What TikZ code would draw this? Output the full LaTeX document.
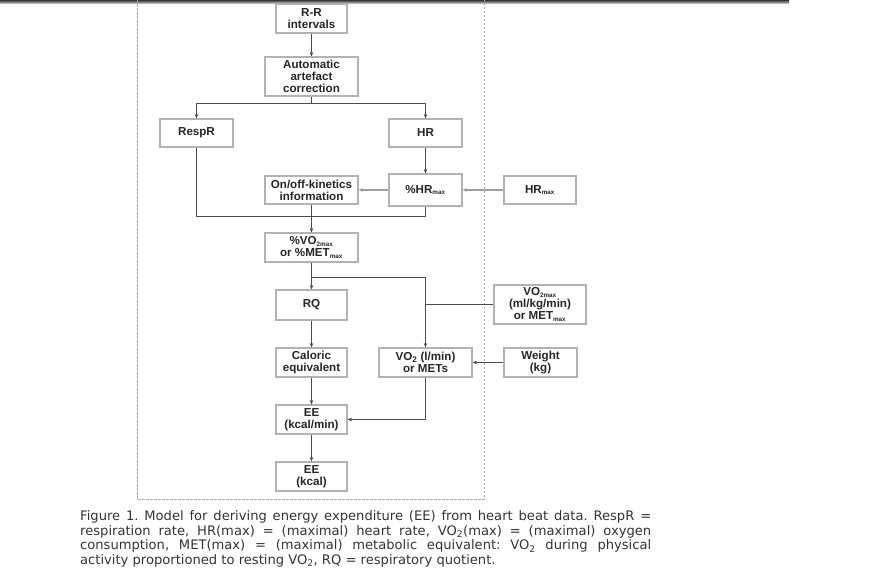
\documentclass[tikz,border=0pt]{standalone}
\usepackage{fontspec}
\setmainfont{Liberation Sans}
\newfontfamily\capfont{DejaVu Sans}
\usetikzlibrary{arrows.meta}

\newcommand{\sbx}[1]{\textsubscript{\fontsize{6.3}{6.3}\selectfont #1}}

\begin{document}
\frenchspacing
\begin{tikzpicture}[x=1pt, y=-1pt, >={Stealth[length=4.5pt,width=3.6pt]},
  every node/.style={font=\fontsize{11.6}{12.2}\selectfont\bfseries, align=center, text=black!85},
  box/.style={draw=gray!60, line width=1.1pt, fill=white, inner sep=0pt,
    minimum width=71pt, minimum height=29pt},
  wide/.style={minimum width=93pt},
  link/.style={draw=black!70, line width=0.6pt},
  side/.style={draw=gray!75, line width=1.2pt}]
  \useasboundingbox (0,0) rectangle (889,584);
  \shade[top color=black!80, bottom color=black!20] (0,0) rectangle (789,3.5);
  \draw[gray!70, line width=0.8pt, dash pattern=on 2.5pt off 1.5pt]
    (137,0) -- (137,499) -- (484,499) -- (484,0);

  % main column
  \node[box] (rr) at (311.5,18.5) {R-R\\intervals};
  \node[box, wide, minimum height=39pt] (auto) at (311.5,76.5) {Automatic\\artefact\\correction};
  \node[box, minimum width=73pt, minimum height=28pt] (respr) at (196.5,133) {RespR};
  \node[box, minimum width=73pt, minimum height=28pt] (hr) at (425.5,133) {HR};
  \node[box, wide, minimum height=28pt] (onoff) at (311.5,190) {On/off-kinetics\\information};
  \node[box, minimum width=73pt, minimum height=32pt] (phr) at (425.5,190) {\%HR\sbx{max}};
  \node[box, minimum width=72pt, minimum height=28pt] (hrmax) at (540,190) {HR\sbx{max}};
  \node[box, wide] (pvo2) at (311.5,247.5) {\%VO\sbx{2max}\\or \%MET\sbx{max}};
  \node[box, minimum height=30pt] (rq) at (311.5,305) {RQ};
  \node[box, minimum width=92pt, minimum height=39pt] (vo2max) at (540,304.5)
    {VO\sbx{2max}\\(ml/kg/min)\\or MET\sbx{max}};
  \node[box] (cal) at (311.5,362.5) {Caloric\\equivalent};
  \node[box, wide] (vo2) at (425.5,362.5) {VO\textsubscript{2} (l/min)\\or METs};
  \node[box, minimum width=73pt] (weight) at (540.5,362.5) {Weight\\(kg)};
  \node[box] (ee1) at (311.5,419.5) {EE\\(kcal/min)};
  \node[box] (ee2) at (311.5,476.5) {EE\\(kcal)};

  % connectors
  \coordinate (split) at (311.5,103);
  \coordinate (merge) at (311.5,216);
  \coordinate (fork) at (311.5,277);
  \draw[link,->] (rr) -- (auto);
  \draw[link] (auto) -- (split);
  \draw[link,->] (split) -| (respr);
  \draw[link,->] (split) -| (hr);
  \draw[link,->] (hr) -- (phr);
  \draw[side,->] (hrmax) -- (phr);
  \draw[side,->] (phr) -- (onoff);
  \draw[link] (respr) |- (merge -| phr.south) -- (phr);
  \draw[link,->] (onoff) -- (pvo2);
  \draw[link,->] (pvo2) -- (rq);
  \draw[link,->] (fork) -| (vo2);
  \draw[link] (vo2max) -- (vo2max -| vo2);
  \draw[link,->] (weight) -- (vo2);
  \draw[link,->] (rq) -- (cal);
  \draw[link,->] (cal) -- (ee1);
  \draw[link,->] (ee1) -- (ee2);
  \draw[link,->] (vo2) |- (ee1);

  % caption
  \node[font=\capfont\fontsize{13.1}{14.5}\selectfont, text=black!80, text width=571pt,
    align=justify, anchor=north west, inner sep=0pt] (caption) at (80,510.5)
    {Figure 1. Model for deriving energy expenditure (EE) from heart beat data. RespR =\linebreak
     respiration rate, HR(max) = (maximal) heart rate, VO\textsubscript{2}(max) = (maximal) oxygen\linebreak
     consumption, MET(max) = (maximal) metabolic equivalent: VO\textsubscript{2} during physical\linebreak
     activity proportioned to resting VO\textsubscript{2}, RQ = respiratory quotient.};
\end{tikzpicture}
\end{document}
